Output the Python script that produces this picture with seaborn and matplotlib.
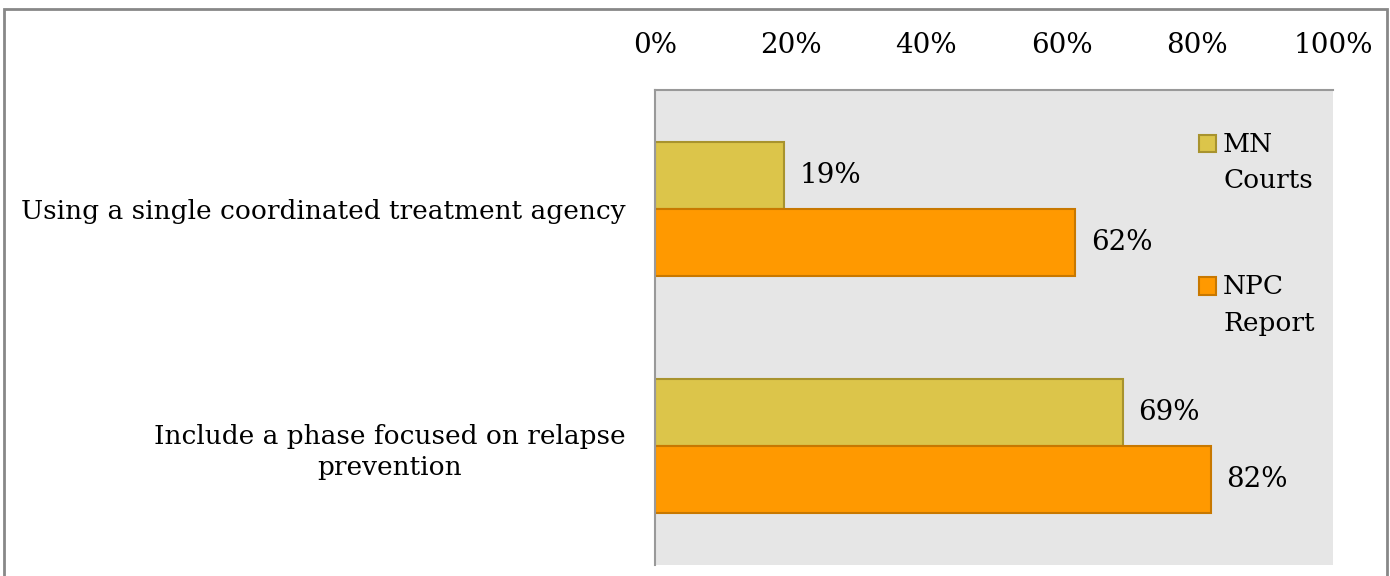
import pandas as pd
import matplotlib.pyplot as plt
import seaborn as sns
from matplotlib.patches import Rectangle

categories = ['Using a single coordinated treatment agency',
              'Include a phase focused on relapse\nprevention']
series = ['MN\nCourts', 'NPC\nReport']
mn_courts = [19, 69]
npc_report = [62, 82]
xticks = [0, 20, 40, 60, 80, 100]

df = pd.DataFrame({
    'category': categories * 2,
    'series': [series[0]] * 2 + [series[1]] * 2,
    'value': mn_courts + npc_report,
})

sns.set_style('white')
plt.rcParams['font.family'] = ['DejaVu Serif']
plt.rcParams['text.color'] = 'black'
num_fs = 20
txt_fs = 19

fig = plt.figure(figsize=(13.9, 5.76), dpi=100)
ax = fig.add_axes([655 / 1390, 1 - 565 / 576, (1333 - 655) / 1390, (565 - 90) / 576])
# grey frame around the whole chart
fig.patches.append(Rectangle((4 / 1390, -0.1), 1383 / 1390, 1.1 - 8.5 / 576,
                             transform=fig.transFigure, fill=False,
                             edgecolor='#888888', linewidth=2))

colors = ['#DCC54A', '#FF9900']
edges = ['#A8932E', '#C87800']
sns.barplot(data=df, y='category', x='value', hue='series', orient='h',
            palette=colors, width=0.566, gap=0, ax=ax, saturation=1)
for cont, ec in zip(ax.containers, edges):
    for bar in cont:
        bar.set_edgecolor(ec)
        bar.set_linewidth(1.5)
    ax.bar_label(cont, labels=[f'{int(v)}%' for v in cont.datavalues],
                 padding=11, fontsize=num_fs, color='black')

ax.set_facecolor('#E6E6E6')
ax.set_xlim(0, 100)
ax.set_ylim(1.5, -0.5)
ax.xaxis.tick_top()
ax.set_xticks(xticks)
ax.set_xticklabels([f'{t}%' for t in xticks])
ax.tick_params(axis='x', length=0, pad=22, labelsize=num_fs, labelcolor='black')
ax.tick_params(axis='y', length=0, pad=21, labelsize=txt_fs, labelcolor='black')
for lbl in ax.get_yticklabels():
    lbl.set_multialignment('center')
    lbl.set_linespacing(1.3)
ax.set_xlabel('')
ax.set_ylabel('')
for s in ['right', 'bottom']:
    ax.spines[s].set_visible(False)
for s in ['top', 'left']:
    ax.spines[s].set_color('#999999')
    ax.spines[s].set_linewidth(1.5)

leg = ax.legend(loc='upper right', bbox_to_anchor=(1.0, 0.95), frameon=False,
                fontsize=txt_fs, labelspacing=3.08, handlelength=0.65,
                handleheight=0.65, handletextpad=0.25, borderaxespad=0.3)
for t in leg.get_texts():
    t.set_linespacing(1.55)
    t.set_color('black')
# keep the swatch level with the first line of each label
for h, ec in zip(leg.legend_handles, edges):
    h.set_edgecolor(ec)
    h.set_linewidth(1.5)
    h.set_y(h.get_y() + 14.3)

plt.savefig('out.png', dpi=100)
plt.close()
